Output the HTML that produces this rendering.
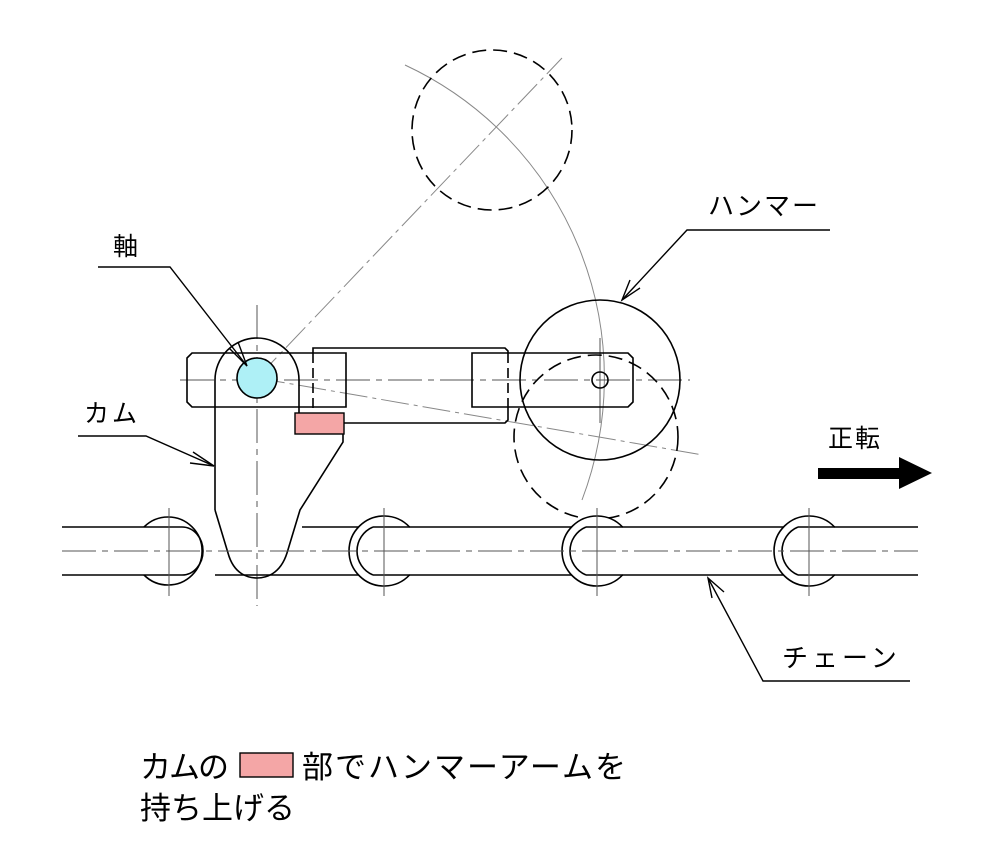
<!DOCTYPE html>
<html><head><meta charset="utf-8"><style>
html,body{margin:0;padding:0;background:#fff}
svg{display:block}
text{font-family:"Liberation Sans","Noto Sans CJK JP",sans-serif;fill:#000}
</style></head><body>
<svg width="990" height="868" viewBox="0 0 990 868" xmlns="http://www.w3.org/2000/svg">
<g fill="none" stroke="#000" stroke-width="1.6">
<path d="M405,65 A345,345 0 0 1 582,500" stroke="#888" stroke-width="1"/>
<line x1="257" y1="378" x2="562" y2="58" stroke="#888" stroke-width="1" stroke-dasharray="28,5,4,5"/>
<line x1="257" y1="378" x2="703" y2="455" stroke="#888" stroke-width="1" stroke-dasharray="28,5,4,5"/>
<line x1="180" y1="380" x2="690" y2="380" stroke="#555" stroke-width="1" stroke-dasharray="34,6,6,6"/>
<line x1="257" y1="305" x2="257" y2="606" stroke="#555" stroke-width="1" stroke-dasharray="34,6,6,6"/>
<line x1="600" y1="338" x2="600" y2="423" stroke="#555" stroke-width="1"/>
<circle cx="492" cy="130" r="80" stroke-dasharray="14,7"/>
<circle cx="600" cy="380" r="80"/>
<circle cx="596" cy="437" r="82" stroke-dasharray="14,7"/>
<circle cx="600" cy="380" r="8"/>
<path d="M472,353 H628 L633,358 V402 L628,407 H472 Z"/>
<path d="M313,353 V348 H505 L508,351 V353 M508,407 V420 L505,423 H344"/>
<line x1="313" y1="353" x2="313" y2="413" stroke-dasharray="10,5"/>
<line x1="508" y1="353" x2="508" y2="407" stroke-dasharray="10,5"/>
<path d="M187,358 L192,353 H346 V407 H192 L187,402 Z"/>
<path d="M215,510 V380 A42,42 0 0 1 299,380 V413"/>
<path d="M343,434 V442 L300,510 L287,553 C280,575 265,578 257,578 C249,578 234,575 228,553 L215,510"/>
<rect x="295" y="413" width="49" height="21" fill="#f4a6a6" stroke-width="1.4"/>
<circle cx="257" cy="378" r="20" fill="#aef0f6"/>
<line x1="62" y1="527" x2="182" y2="527"/>
<line x1="302" y1="527" x2="918" y2="527"/>
<line x1="62" y1="575" x2="182" y2="575"/>
<line x1="215" y1="575" x2="918" y2="575"/>
</g>
<g stroke="#000" stroke-width="1.6">
<path d="M144,527 A34,34 0 1 1 144,575" fill="none"/>
<path d="M182,527 A21,24 0 0 1 182,575" fill="none"/>
<g id="lk">
<path d="M409.5,527 A35,35 0 1 0 409.5,575 Z" fill="#fff" stroke="none"/>
<path d="M409.5,527 A35,35 0 1 0 409.5,575" fill="none"/>
<path d="M373,527 A26,26 0 0 0 373,575" fill="none"/>
<line x1="373" y1="527" x2="410" y2="527"/>
<line x1="373" y1="575" x2="410" y2="575"/>
</g>
<use href="#lk" x="213"/>
<use href="#lk" x="425"/>
</g>
<g stroke="#555" stroke-width="1">
<line x1="62" y1="551" x2="918" y2="551" stroke-dasharray="34,6,6,6"/>
<line x1="169" y1="508" x2="169" y2="596"/>
<line x1="384" y1="508" x2="384" y2="596"/>
<line x1="597" y1="508" x2="597" y2="596"/>
<line x1="809" y1="508" x2="809" y2="596"/>
</g>
<g fill="none" stroke="#000" stroke-width="1.4">
<polyline points="98,267 170,267 247,366"/>
<polyline points="229,348 247,366 238,342"/>
<polyline points="78,436 146,436 214,466"/>
<polyline points="193,452 214,466 190,463"/>
<polyline points="830,230 687,230 622,300"/>
<polyline points="630,280 622,300 640,288"/>
<polyline points="910,681 763,681 708,578"/>
<polyline points="712,598 708,578 724,592"/>
</g>
<rect x="818" y="468" width="82" height="11" fill="#000"/>
<polygon points="899,457 932,473 899,489" fill="#000"/>
<text x="113" y="255" font-size="25">軸</text>
<text x="84" y="422" font-size="25" letter-spacing="3">カム</text>
<text x="708" y="215" font-size="26" letter-spacing="2">ハンマー</text>
<text x="828" y="447" font-size="25" letter-spacing="2">正転</text>
<text x="782" y="667" font-size="26" letter-spacing="4">チェーン</text>
<text x="140" y="778" font-size="31" letter-spacing="-2">カムの</text>
<rect x="240" y="753" width="53" height="24" fill="#f4a6a6" stroke="#000" stroke-width="1.4"/>
<text x="302" y="778" font-size="31" letter-spacing="2">部でハンマーアームを</text>
<text x="140" y="819" font-size="31">持ち上げる</text>
</svg>
</body></html>
